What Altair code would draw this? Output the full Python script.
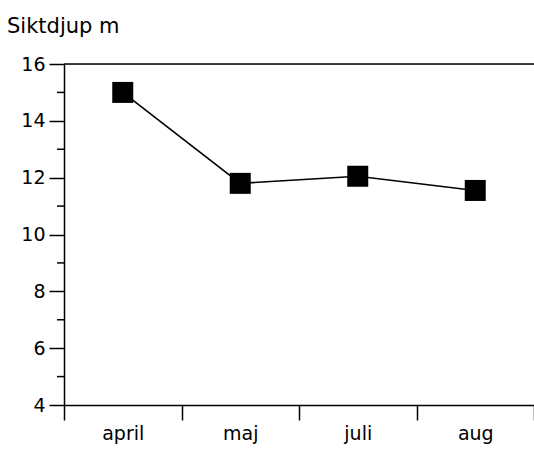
import altair as alt
import pandas as pd

title_text = ["Siktdjup m"]
months = ["april", "maj", "juli", "aug"]
depth = [15.0, 11.8, 12.05, 11.55]
major_ticks = [4, 6, 8, 10, 12, 14, 16]
minor_ticks = [5, 7, 9, 11, 13, 15]

df = pd.DataFrame({"month": months, "depth": depth})
minor_df = pd.DataFrame({"v": minor_ticks})
top_df = pd.DataFrame({"v": [16]})
title_df = pd.DataFrame({"t": title_text})

FONT = "DejaVu Sans"

x_enc = alt.X(
    "month:N",
    sort=months,
    scale=alt.Scale(paddingInner=0, paddingOuter=0),
    axis=alt.Axis(
        title=None,
        labelAngle=0,
        tickBand="extent",
        tickSize=15,
        labelPadding=4,
        labelFontSize=19,
        labelFont=FONT,
        labelColor="black",
        domainColor="black",
        domainWidth=1.5,
        tickColor="black",
        tickWidth=1.5,
    ),
)
y_scale = alt.Scale(domain=[4, 16], nice=False, zero=False)
y_enc = alt.Y(
    "depth:Q",
    scale=y_scale,
    axis=alt.Axis(
        title=None,
        values=major_ticks,
        tickSize=15,
        labelPadding=4,
        labelFontSize=19,
        labelFont=FONT,
        labelColor="black",
        domainColor="black",
        domainWidth=1.5,
        tickColor="black",
        tickWidth=1.5,
        grid=False,
    ),
)

line = alt.Chart(df).mark_line(color="black", strokeWidth=1.6).encode(x=x_enc, y=y_enc)
points = alt.Chart(df).mark_point(
    shape="square", filled=True, size=441, color="black", opacity=1
).encode(x=x_enc, y=y_enc)

minor = alt.Chart(minor_df).mark_rule(color="black", strokeWidth=1.5).encode(
    y=alt.Y("v:Q", scale=y_scale),
    x=alt.value(-7),
    x2=alt.value(0),
)

top_line = alt.Chart(top_df).mark_rule(color="black", strokeWidth=1.5).encode(
    y=alt.Y("v:Q", scale=y_scale),
    x=alt.value(0),
    x2=alt.value(470),
)

# chart heading, placed above the y-axis labels
heading = alt.Chart(title_df).mark_text(
    align="left",
    baseline="alphabetic",
    font=FONT,
    fontSize=21,
    color="black",
).encode(text="t:N", x=alt.value(-57), y=alt.value(-31))

chart = (
    alt.layer(top_line, minor, line, points, heading)
    .properties(
        width=470,
        height=341,
        autosize=alt.AutoSizeParams(type="none"),
        padding={"left": 64, "top": 64, "right": 0, "bottom": 47},
    )
    .configure_view(stroke=None)
    .configure(background="white")
)

chart.save("out.html", embed_options={"renderer": "svg", "actions": False})
